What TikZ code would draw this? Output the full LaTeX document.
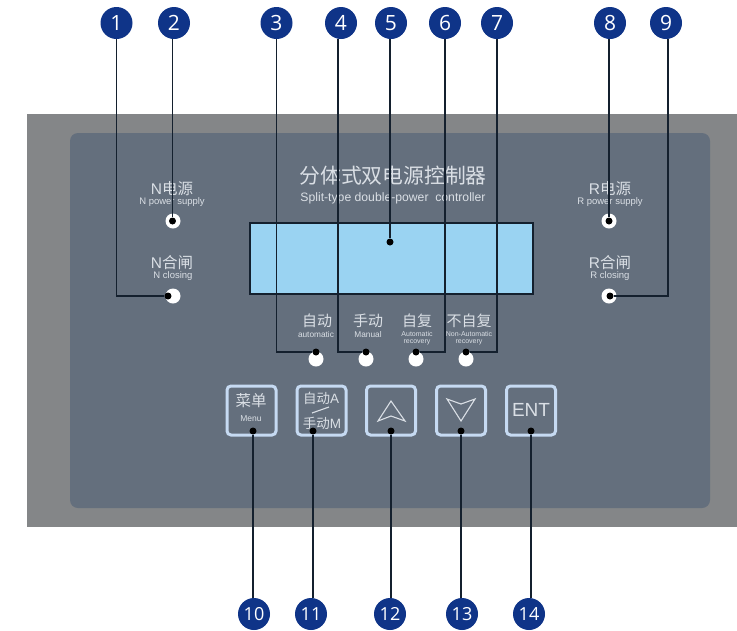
\documentclass[tikz,border=0pt]{standalone}
\usepackage{fontspec}
\setmainfont{Liberation Sans}
\newfontfamily\cjk{Noto Sans CJK SC}
\newfontfamily\badgefont{Open Sans}
\newcommand{\fsz}[1]{\fontsize{#1}{#1}\selectfont}
\definecolor{outergrey}{HTML}{848688}
\definecolor{panelgrey}{HTML}{646F7D}
\definecolor{lcdblue}{HTML}{9AD3F2}
\definecolor{darkline}{HTML}{14202E}
\definecolor{navy}{HTML}{0F3488}
\definecolor{soft}{HTML}{DADFE5}
\definecolor{keyblue}{HTML}{C6DAF2}
\tikzset{
  badge/.style={circle,fill=navy,minimum size=32pt,inner sep=0pt,text=white,font=\badgefont\fsz{21}},
  badgetwo/.style={badge,font=\badgefont\fsz{18}},
  lead/.style={draw=darkline,line width=1.2pt},
  led/.style={circle,fill=white,minimum size=15pt,inner sep=0pt},
  pin/.style={circle,fill=black,minimum size=7pt,inner sep=0pt},
  mainlabel/.style={text=soft,inner sep=0pt,font=\fsz{15.5}},
  sublabel/.style={text=soft,inner sep=0pt,font=\fsz{9.5}},
  modelabel/.style={text=soft,inner sep=0pt,font=\cjk\fsz{15}},
  modesub/.style={text=soft,inner sep=0pt,font=\fsz{8.3}},
  tinylabel/.style={text=soft,inner sep=0pt,align=center,font=\fsz{7}},
  key/.style={draw=keyblue,line width=3pt,rounded corners=4pt,minimum width=49pt,minimum height=49pt,inner sep=0pt},
  glyph/.style={draw=soft,line width=1.1pt,line join=miter}
}
\begin{document}
\begin{tikzpicture}[x=1pt,y=-1pt]
\useasboundingbox (0,0) rectangle (737,630);
% housing
\fill[outergrey] (27,114) rectangle (737,527);
\fill[panelgrey,rounded corners=8pt] (70,133) rectangle (710,508);
% display
\node[draw=darkline,line width=2pt,fill=lcdblue,minimum width=283pt,minimum height=71pt,inner sep=0pt] (lcd) at (391,258) {};
% title
\node[text=soft,inner sep=0pt,font=\cjk\fsz{20.8}] (title) at (393,176) {分体式双电源控制器};
\node[text=soft,inner sep=0pt,font=\fsz{12.2}] (subtitle) at (393,198) {Split-type double-power\ \ controller};
% side labels
\node[mainlabel] (nsup) at (172,189) {N{\cjk 电源}};
\node[sublabel] (nsups) at (172,202) {N power supply};
\node[mainlabel] (ncl) at (172,263) {N{\cjk 合闸}};
\node[sublabel] (ncls) at (173,276) {N closing};
\node[mainlabel] (rsup) at (610,189) {R{\cjk 电源}};
\node[sublabel] (rsups) at (610,202) {R power supply};
\node[mainlabel] (rcl) at (610,263) {R{\cjk 合闸}};
\node[sublabel] (rcls) at (610,276) {R closing};
% mode labels
\node[modelabel] (m1) at (317,321) {自动};
\node[modesub] (m1s) at (316,335) {automatic};
\node[modelabel] (m2) at (368,321) {手动};
\node[modesub] (m2s) at (368,335) {Manual};
\node[modelabel] (m3) at (417,321) {自复};
\node[tinylabel] (m3s) at (417,338) {Automatic\\[0.5pt]recovery};
\node[modelabel] (m4) at (469,321) {不自复};
\node[tinylabel] (m4s) at (469,338) {Non-Automatic\\[0.5pt]recovery};
% LEDs
\node[led] (ln1) at (173,296) {};
\node[led] (ln2) at (173,221) {};
\node[led] (lm1) at (316,359) {};
\node[led] (lm2) at (366,359) {};
\node[led] (lm3) at (416,359) {};
\node[led] (lm4) at (466,359) {};
\node[led] (lr1) at (609,221) {};
\node[led] (lr2) at (609,296) {};
% keys
\node[key] (k1) at (251.5,410.5) {};
\node[key] (k2) at (321.5,410.5) {};
\node[key] (k3) at (391,410.5) {};
\node[key] (k4) at (461,410.5) {};
\node[key] (k5) at (531,410.5) {};
\node[text=soft,inner sep=0pt,font=\cjk\fsz{15.5}] (k1a) at (251,401) {菜单};
\node[text=soft,inner sep=0pt,font=\fsz{8.5}] (k1b) at (251,419) {Menu};
\node[text=soft,inner sep=0pt,font=\fsz{13.5}] (k2a) at (321,398) {{\cjk 自动}A};
\node[text=soft,inner sep=0pt,font=\fsz{13.5}] (k2b) at (322,423) {{\cjk 手动}M};
\draw[glyph] (312,413) -- (329,407);
\draw[glyph] (391,401) -- (405,421) -- (391,416) -- (378,421) -- cycle;
\draw[glyph] (447,399) -- (461,404) -- (475,399) -- (461,421) -- cycle;
\node[text=soft,inner sep=0pt,font=\fsz{19}] (k5a) at (531,410) {ENT};
% badges
\node[badge] (b1) at (116.5,23) {1};
\node[badge] (b2) at (174,23) {2};
\node[badge] (b3) at (276.5,23) {3};
\node[badge] (b4) at (341,23) {4};
\node[badge] (b5) at (391,23) {5};
\node[badge] (b6) at (445,23) {6};
\node[badge] (b7) at (497,23) {7};
\node[badge] (b8) at (610,23) {8};
\node[badge] (b9) at (666,23) {9};
\node[badgetwo] (b10) at (254,614) {10};
\node[badgetwo] (b11) at (311,614) {11};
\node[badgetwo] (b12) at (390,614) {12};
\node[badgetwo] (b13) at (462,614) {13};
\node[badgetwo] (b14) at (529,614) {14};
% pins
\node[pin] (p1) at (168,296) {};
\node[pin] (p2) at (172.5,221) {};
\node[pin] (p3) at (316,352) {};
\node[pin] (p4) at (366,352) {};
\node[pin] (p5) at (390,242) {};
\node[pin] (p6) at (416,352) {};
\node[pin] (p7) at (466,352) {};
\node[pin] (p8) at (609,221) {};
\node[pin] (p9) at (610,296) {};
\node[pin] (p10) at (253,431) {};
\node[pin] (p11) at (313,431) {};
\node[pin] (p12) at (391,431) {};
\node[pin] (p13) at (461,431) {};
\node[pin] (p14) at (531,431) {};
% elbows
\coordinate (e4) at (338,352);
\coordinate (e9) at (668,296);
% connectors
\draw[lead] (b1.south) |- (p1);
\draw[lead] (p2 |- b2.south) -- (p2);
\draw[lead] (b3.south) |- (p3);
\draw[lead] (e4 |- b4.south) -- (e4) -- (p4);
\draw[lead] (p5 |- b5.south) -- (p5);
\draw[lead] (b6.south) |- (p6);
\draw[lead] (b7.south) |- (p7);
\draw[lead] (p8 |- b8.south) -- (p8);
\draw[lead] (e9 |- b9.south) -- (e9) -- (p9);
\draw[lead] (p10) -- (p10 |- b10.north);
\draw[lead] (p11) -- (p11 |- b11.north);
\draw[lead] (p12) -- (p12 |- b12.north);
\draw[lead] (p13) -- (p13 |- b13.north);
\draw[lead] (p14) -- (p14 |- b14.north);
\end{tikzpicture}
\end{document}
